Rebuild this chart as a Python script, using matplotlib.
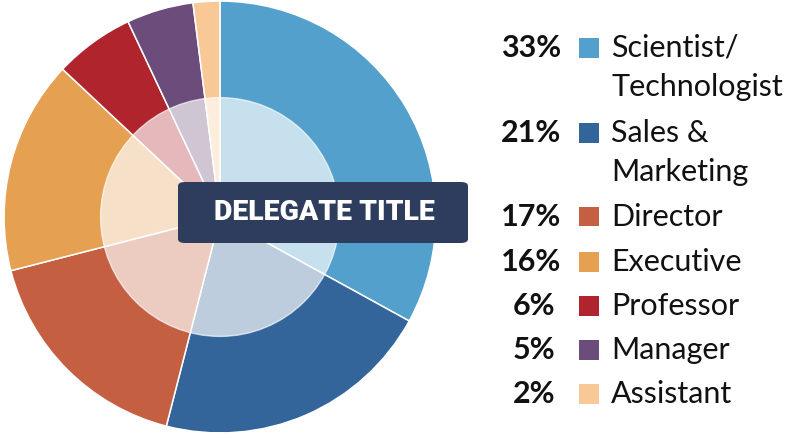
import matplotlib
matplotlib.use("Agg")
import matplotlib.pyplot as plt
from matplotlib.patches import Circle, Rectangle, FancyBboxPatch

categories = ["Scientist/\nTechnologist", "Sales &\nMarketing", "Director", "Executive",
              "Professor", "Manager", "Assistant"]
values = [33, 21, 17, 16, 6, 5, 2]
colors = ["#52a0cb", "#33659b", "#c55f42", "#e6a052", "#b0242d", "#6b4c7a", "#f8c896"]
center_title = "DELEGATE TITLE"

W, H = 800, 438
fig = plt.figure(figsize=(W / 100, H / 100), dpi=100)

def fx(px):
    return px / W

def fy(py_top):
    return 1 - py_top / H

# Pie axes: center (220, 217), radius 217 px
cx, cy, r = 220, 217, 217
ax = fig.add_axes([fx(cx - r), fy(cy + r), 2 * r / W, 2 * r / H])
ax.pie(values, colors=colors, startangle=90, counterclock=False, radius=1,
       wedgeprops=dict(edgecolor="white", linewidth=1.1))
ax.add_patch(Circle((0, 0), 0.553, facecolor="white", alpha=0.68,
                    edgecolor="white", linewidth=1.0, zorder=5))
ax.set_xlim(-1.005, 1.005)
ax.set_ylim(-1.005, 1.005)
ax.set_aspect("equal")
ax.axis("off")

# Title box
bx0, bx1, by0, by1 = 178, 468, 182, 243
box = FancyBboxPatch((fx(bx0), fy(by1)), fx(bx1 - bx0), (by1 - by0) / H,
                     boxstyle="round,pad=0,rounding_size=0.009",
                     transform=fig.transFigure, facecolor="#2e3d5e",
                     edgecolor="none", zorder=10)
fig.patches.append(box)
fig.text(fx(324), fy(212), center_title, color="white", fontsize=20.5,
         fontweight="black", family="Roboto", ha="center", va="center", zorder=11)

# Legend
baselines = [57, 142, 226, 271, 315, 359, 403]
wrap_step = 39
fs = 22
for val, cat, col, bl in zip(values, categories, colors, baselines):
    pct = f"{val}%"
    xr = 561 if val >= 10 else 555
    fig.text(fx(xr), fy(bl), pct, fontsize=fs, fontweight="bold", family="Lato",
             ha="right", va="baseline", color="#111111")
    fig.patches.append(Rectangle((fx(579), fy(bl + 0.5)), fx(19.5), 19.5 / H,
                                 transform=fig.transFigure, facecolor=col,
                                 edgecolor="none"))
    for i, line in enumerate(cat.split("\n")):
        fig.text(fx(611), fy(bl + i * wrap_step), line, fontsize=fs, family="Lato",
                 ha="left", va="baseline", color="#111111")

fig.savefig("out.png", dpi=100)
